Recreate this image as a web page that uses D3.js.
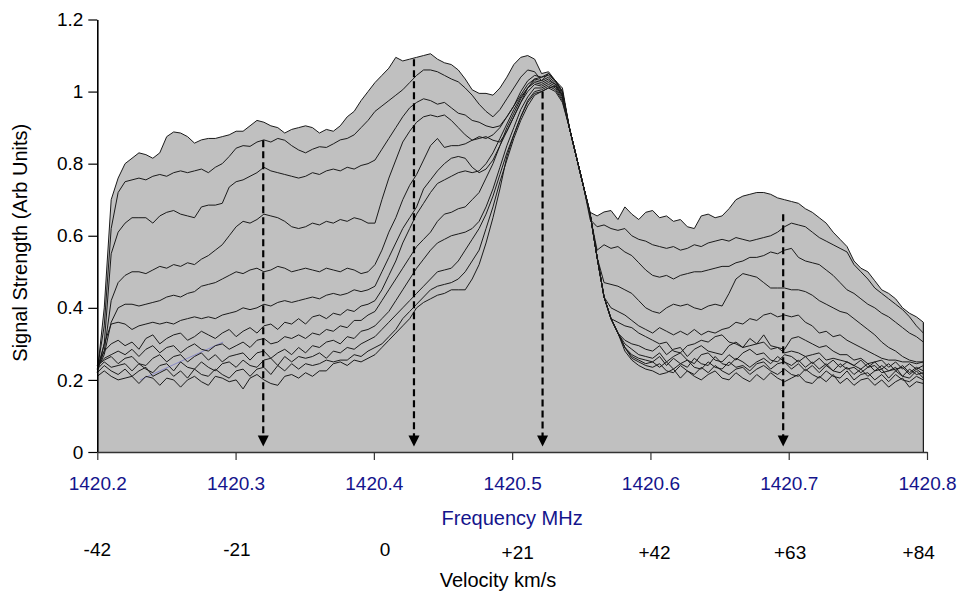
<!DOCTYPE html>
<html>
<head>
<meta charset="utf-8">
<script src="https://cdn.jsdelivr.net/npm/d3@7"></script>
<style>
  body { margin: 0; background: #fff; }
  text { font-family: "Liberation Sans", Arial, sans-serif; }
</style>
</head>
<body>
<div id="chart"></div>
<script>
// sample grid of the scans (MHz)
const freqStart = 1420.2;
const freqStep = 0.00502;

// signal strength of each scan, one value per sample
const scan1 = [.22,.40,.70,.76,.80,.815,.83,.825,.815,.83,
  .875,.888,.885,.875,.857,.866,.87,.87,.875,.88,
  .89,.89,.905,.92,.915,.905,.90,.885,.895,.90,
  .905,.90,.885,.895,.89,.905,.93,.945,.975,1.0,
  1.025,1.045,1.065,1.095,1.085,1.09,1.095,1.10,1.105,1.09,
  1.08,1.075,1.06,1.035,1.005,.995,.995,.99,1.01,1.04,
  1.075,1.095,1.10,1.09,1.05,1.055,1.03,1.01,.90,.82,
  .74,.665,.655,.666,.67,.645,.68,.66,.645,.665,
  .67,.65,.655,.64,.645,.625,.62,.655,.66,.65,
  .655,.675,.70,.71,.715,.72,.72,.715,.705,.70,
  .695,.69,.675,.665,.65,.635,.61,.59,.57,.53,
  .51,.50,.475,.45,.44,.425,.40,.385,.375,.36];
const scan2 = [.23,.35,.62,.72,.75,.755,.76,.755,.765,.77,
  .765,.775,.78,.775,.78,.785,.775,.79,.80,.82,
  .843,.85,.848,.86,.866,.86,.87,.865,.85,.838,
  .83,.84,.847,.845,.855,.866,.87,.88,.90,.92,
  .945,.96,.975,.99,1.005,1.025,1.045,1.06,1.06,1.055,
  1.045,1.035,1.027,1.01,.99,.965,.945,.93,.95,.98,
  1.01,1.04,1.06,1.055,1.03,1.05,1.03,1.0,.90,.82,
  .74,.645,.625,.63,.62,.615,.62,.60,.59,.585,
  .575,.57,.565,.57,.56,.565,.575,.57,.58,.585,
  .59,.585,.595,.59,.585,.59,.595,.60,.61,.625,
  .635,.63,.625,.61,.595,.585,.575,.565,.555,.52,
  .50,.48,.455,.44,.425,.41,.395,.375,.35,.33];
const scan3 = [.23,.30,.55,.61,.635,.65,.65,.65,.635,.655,
  .665,.67,.66,.655,.65,.68,.685,.685,.69,.735,
  .75,.755,.765,.775,.79,.78,.775,.77,.765,.76,
  .765,.775,.77,.78,.785,.78,.79,.785,.795,.80,
  .81,.84,.87,.90,.93,.955,.97,.98,.975,.965,
  .97,.955,.94,.935,.92,.915,.905,.90,.905,.93,
  .96,1.0,1.03,1.045,1.04,1.05,1.03,1.0,.90,.82,
  .74,.655,.56,.575,.565,.57,.555,.545,.525,.505,
  .49,.485,.49,.48,.49,.495,.50,.50,.505,.51,
  .515,.515,.525,.53,.54,.54,.545,.555,.55,.56,
  .565,.54,.53,.525,.52,.505,.49,.47,.45,.44,
  .425,.41,.40,.385,.375,.36,.345,.33,.32,.305];
const scan4 = [.23,.28,.42,.47,.49,.50,.50,.495,.505,.515,
  .51,.52,.515,.525,.52,.535,.545,.56,.575,.60,
  .625,.64,.635,.645,.66,.655,.65,.64,.625,.62,
  .625,.635,.63,.64,.635,.645,.64,.65,.645,.635,
  .635,.70,.76,.81,.86,.89,.915,.93,.935,.93,
  .935,.92,.90,.88,.865,.87,.875,.865,.86,.89,
  .93,.97,1.01,1.035,1.04,1.045,1.03,1.0,.90,.82,
  .74,.66,.54,.47,.465,.46,.45,.44,.42,.40,
  .39,.385,.40,.41,.405,.41,.40,.395,.405,.41,
  .405,.44,.48,.495,.49,.485,.47,.455,.455,.455,
  .45,.45,.445,.435,.42,.41,.40,.39,.385,.37,
  .355,.34,.325,.305,.29,.28,.265,.255,.25,.25];
const scan5 = [.23,.27,.36,.40,.41,.41,.405,.41,.415,.42,
  .43,.435,.43,.44,.445,.46,.465,.47,.48,.49,
  .50,.495,.505,.51,.50,.505,.515,.51,.50,.505,
  .51,.505,.50,.51,.505,.50,.51,.505,.495,.50,
  .52,.56,.61,.65,.70,.74,.77,.81,.85,.87,
  .845,.85,.85,.855,.865,.875,.87,.88,.90,.93,
  .96,.99,1.02,1.035,1.03,1.04,1.025,.995,.90,.82,
  .74,.66,.54,.43,.40,.39,.38,.365,.35,.34,
  .33,.345,.335,.325,.335,.325,.34,.325,.335,.33,
  .34,.345,.36,.355,.37,.365,.38,.385,.375,.38,
  .375,.38,.36,.35,.33,.335,.32,.325,.31,.30,
  .29,.28,.27,.26,.255,.255,.25,.25,.245,.25];
const scan6 = [.22,.30,.355,.36,.355,.34,.35,.355,.36,.355,
  .36,.355,.365,.37,.375,.37,.375,.37,.38,.385,
  .39,.40,.395,.40,.41,.405,.415,.42,.415,.42,
  .425,.43,.425,.435,.44,.435,.44,.45,.445,.45,
  .46,.50,.54,.58,.62,.65,.68,.73,.755,.78,
  .80,.815,.82,.815,.79,.775,.785,.81,.85,.90,
  .94,.98,1.01,1.03,1.025,1.035,1.02,.99,.90,.82,
  .74,.66,.54,.43,.37,.36,.35,.345,.33,.32,
  .31,.30,.305,.28,.275,.295,.30,.31,.305,.32,
  .325,.305,.30,.29,.295,.30,.325,.295,.29,.285,
  .315,.32,.31,.30,.29,.295,.28,.27,.27,.255,
  .26,.245,.25,.255,.235,.25,.23,.245,.23,.24];
const scan7 = [.24,.28,.30,.31,.295,.305,.285,.315,.325,.30,
  .315,.325,.33,.31,.32,.335,.325,.315,.33,.34,
  .32,.335,.345,.33,.35,.355,.34,.36,.355,.37,
  .355,.375,.38,.37,.385,.38,.395,.39,.405,.41,
  .42,.45,.49,.53,.58,.62,.66,.69,.72,.745,
  .755,.765,.775,.78,.775,.78,.80,.83,.87,.91,
  .95,.985,1.01,1.025,1.02,1.03,1.02,.99,.90,.82,
  .74,.66,.54,.43,.37,.33,.31,.30,.295,.285,
  .28,.295,.27,.285,.29,.265,.285,.295,.28,.275,
  .27,.295,.305,.29,.315,.30,.305,.285,.29,.275,
  .28,.275,.265,.27,.275,.255,.26,.255,.25,.24,
  .255,.235,.25,.23,.245,.225,.24,.22,.235,.225];
const scan8 = [.24,.26,.27,.28,.27,.285,.265,.285,.295,.275,
  .29,.295,.275,.29,.30,.285,.28,.295,.30,.285,
  .295,.305,.29,.31,.315,.30,.305,.32,.315,.325,
  .315,.33,.325,.34,.335,.35,.345,.365,.365,.38,
  .39,.42,.45,.48,.51,.54,.57,.59,.61,.64,
  .66,.665,.675,.68,.70,.72,.76,.80,.85,.89,
  .93,.97,1.0,1.02,1.015,1.025,1.015,.985,.90,.82,
  .74,.66,.54,.43,.37,.33,.30,.285,.27,.265,
  .26,.275,.25,.265,.275,.255,.245,.27,.275,.255,
  .25,.27,.255,.275,.285,.27,.275,.255,.25,.27,
  .265,.25,.265,.245,.26,.24,.255,.235,.25,.24,
  .23,.245,.225,.24,.225,.23,.235,.215,.23,.215];
const scan9 = [.24,.255,.265,.245,.26,.265,.245,.24,.26,.27,
  .25,.265,.27,.25,.265,.275,.255,.27,.25,.265,
  .27,.275,.255,.275,.28,.26,.275,.285,.27,.29,
  .275,.295,.29,.305,.31,.30,.32,.315,.335,.34,
  .35,.37,.39,.42,.45,.48,.51,.535,.56,.58,
  .59,.60,.605,.61,.62,.64,.68,.73,.79,.85,
  .90,.95,.985,1.01,1.01,1.02,1.01,.98,.90,.82,
  .74,.66,.54,.43,.37,.33,.29,.27,.26,.255,
  .25,.265,.24,.26,.245,.235,.26,.245,.24,.265,
  .245,.24,.26,.25,.235,.25,.26,.245,.265,.25,
  .24,.255,.235,.25,.23,.245,.225,.245,.23,.235,
  .22,.235,.24,.22,.225,.235,.21,.23,.215,.22];
const scan10 = [.23,.25,.235,.24,.245,.225,.245,.23,.22,.24,
  .245,.225,.25,.235,.23,.25,.235,.225,.245,.25,
  .235,.255,.24,.235,.255,.26,.24,.265,.25,.265,
  .26,.265,.275,.26,.28,.275,.29,.285,.30,.31,
  .32,.34,.36,.38,.40,.42,.44,.46,.48,.50,
  .505,.51,.53,.56,.59,.62,.66,.71,.77,.83,
  .88,.93,.975,1.0,1.005,1.015,1.005,.975,.90,.82,
  .74,.66,.54,.43,.37,.33,.29,.265,.255,.245,
  .25,.235,.25,.23,.245,.255,.235,.23,.25,.235,
  .23,.25,.235,.24,.225,.245,.25,.23,.245,.25,
  .23,.245,.225,.24,.22,.24,.225,.22,.235,.215,
  .23,.21,.225,.23,.205,.225,.21,.205,.225,.205];
const scan11 = [.22,.24,.225,.215,.23,.21,.225,.235,.21,.22,
  .23,.21,.225,.205,.23,.215,.21,.23,.215,.205,
  .225,.23,.21,.23,.235,.215,.24,.225,.245,.23,
  .245,.24,.245,.255,.25,.255,.255,.27,.265,.28,
  .29,.30,.32,.34,.37,.39,.41,.43,.45,.46,
  .465,.47,.48,.50,.53,.56,.62,.68,.75,.81,
  .87,.92,.96,.99,1.0,1.01,1.0,.97,.90,.82,
  .74,.66,.54,.43,.37,.33,.29,.26,.25,.24,
  .235,.245,.225,.22,.24,.225,.215,.235,.22,.24,
  .225,.215,.23,.235,.215,.23,.24,.225,.215,.23,
  .215,.21,.23,.215,.205,.225,.21,.205,.225,.20,
  .215,.22,.20,.215,.195,.215,.20,.195,.21,.20];
const scan12 = [.21,.225,.21,.20,.205,.21,.19,.21,.205,.185,
  .205,.20,.18,.20,.21,.195,.185,.21,.205,.195,
  .20,.175,.205,.215,.20,.19,.185,.21,.215,.205,
  .22,.21,.225,.225,.245,.25,.24,.255,.25,.26,
  .27,.29,.31,.33,.35,.37,.40,.415,.425,.435,
  .44,.45,.45,.45,.48,.52,.58,.65,.73,.82,
  .88,.93,.97,.995,1.0,1.01,1.015,.99,.90,.82,
  .74,.66,.54,.43,.37,.33,.28,.255,.24,.23,
  .225,.215,.22,.23,.205,.225,.21,.20,.215,.225,
  .205,.20,.22,.205,.195,.215,.20,.22,.205,.195,
  .205,.215,.195,.19,.21,.195,.215,.19,.205,.185,
  .20,.205,.185,.20,.18,.195,.205,.18,.195,.19];

const scans = [scan1, scan2, scan3, scan4, scan5, scan6, scan7, scan8, scan9, scan10, scan11, scan12];

const freqTicks = [1420.2, 1420.3, 1420.4, 1420.5, 1420.6, 1420.7, 1420.8];
const freqTickLabels = ["1420.2", "1420.3", "1420.4", "1420.5", "1420.6", "1420.7", "1420.8"];
const yTicks = [0, 0.2, 0.4, 0.6, 0.8, 1, 1.2];
const yTickLabels = ["0", "0.2", "0.4", "0.6", "0.8", "1", "1.2"];
const velocityLabels = ["-42", "-21", "0", "+21", "+42", "+63", "+84"];
const velocityAt = [1420.2, 1420.301, 1420.408, 1420.504, 1420.603, 1420.701, 1420.794];

// dashed arrows marking the peaks
const arrowFreqs = [1420.32, 1420.429, 1420.522, 1420.696];
const arrowTops = [0.865, 1.09, 1.0, 0.66];
const arrowTip = 0.015;

// faint stray stroke in the lower left of the original
const strayLine = [[1420.231, 0.2], [1420.291, 0.305]];

const width = 964;
const height = 592;

const x = d3.scaleLinear().domain([1420.2, 1420.8]).range([97.3, 927]);
const y = d3.scaleLinear().domain([0, 1.2]).range([452, 19.5]);

const svg = d3
  .select("#chart")
  .append("svg")
  .attr("width", width)
  .attr("height", height)
  .style("background", "#fff");

const toPoints = (s) => s.map((v, k) => ({ f: freqStart + k * freqStep, v: v }));

const area = d3
  .area()
  .x((d) => x(d.f))
  .y0(y(0))
  .y1((d) => y(d.v));

const line = d3
  .line()
  .x((d) => x(d.f))
  .y((d) => y(d.v));

// grey fill first, then every outline on top
svg
  .append("g")
  .selectAll("path")
  .data(scans)
  .enter()
  .append("path")
  .attr("d", (s) => area(toPoints(s)))
  .attr("fill", "#c0c0c0");

svg
  .append("path")
  .attr("d", d3.line()(strayLine.map((p) => [x(p[0]), y(p[1])])))
  .attr("stroke", "#8a8ac8")
  .attr("stroke-width", 1)
  .attr("fill", "none");

svg
  .append("g")
  .selectAll("path")
  .data(scans)
  .enter()
  .append("path")
  .attr("d", (s) => line(toPoints(s)))
  .attr("fill", "none")
  .attr("stroke", "#1a1a1a")
  .attr("stroke-width", 1)
  .attr("stroke-linejoin", "round");

// right edge of the filled region
const lastF = freqStart + (scan1.length - 1) * freqStep;
svg
  .append("line")
  .attr("x1", x(lastF))
  .attr("x2", x(lastF))
  .attr("y1", y(0))
  .attr("y2", y(scan1[scan1.length - 1]))
  .attr("stroke", "#1a1a1a")
  .attr("stroke-width", 1.2);

// arrows
const arrows = svg.append("g");
arrowFreqs.forEach((f, i) => {
  const ax = x(f);
  const tipY = y(arrowTip);
  arrows
    .append("line")
    .attr("x1", ax)
    .attr("x2", ax)
    .attr("y1", y(arrowTops[i]))
    .attr("y2", tipY - 9)
    .attr("stroke", "#000")
    .attr("stroke-width", 2.2)
    .attr("stroke-dasharray", "7,4");
  arrows
    .append("path")
    .attr("d", `M${ax - 5.5},${tipY - 11}L${ax + 5.5},${tipY - 11}L${ax},${tipY}Z`)
    .attr("fill", "#000");
});

// axes
const yAxis = svg
  .append("g")
  .attr("transform", `translate(${x(1420.2)},0)`)
  .call(
    d3
      .axisLeft(y)
      .tickValues(yTicks)
      .tickFormat((d, i) => yTickLabels[i])
      .tickSize(9)
      .tickSizeOuter(0)
      .tickPadding(5)
  );
yAxis.select(".domain").attr("stroke", "#000").attr("stroke-width", 1.6);
yAxis.selectAll(".tick line").attr("stroke", "#000").attr("stroke-width", 1.2);
yAxis.selectAll("text").style("font-size", "19px").style("fill", "#000")
  .style("font-family", '"Liberation Sans", Arial, sans-serif');

const xAxis = svg
  .append("g")
  .attr("transform", `translate(0,${y(0)})`)
  .call(
    d3
      .axisBottom(x)
      .tickValues(freqTicks)
      .tickFormat((d, i) => freqTickLabels[i])
      .tickSize(8)
      .tickSizeOuter(0)
      .tickPadding(17)
  );
xAxis.select(".domain").attr("stroke", "#333").attr("stroke-width", 1.6);
xAxis.selectAll(".tick line").attr("stroke", "#333").attr("stroke-width", 1.2);
xAxis.selectAll("text").style("font-size", "19px").style("fill", "#14148c")
  .style("font-family", '"Liberation Sans", Arial, sans-serif');

// titles
svg
  .append("text")
  .attr("x", x(1420.5))
  .attr("y", 525)
  .attr("text-anchor", "middle")
  .style("font-size", "20px")
  .style("fill", "#14148c")
  .text("Frequency MHz");

svg
  .selectAll(".vel")
  .data(velocityLabels)
  .enter()
  .append("text")
  .attr("class", "vel")
  .attr("x", (d, i) => x(velocityAt[i]))
  .attr("y", (d, i) => (d.startsWith("+") ? 559 : 556))
  .attr("text-anchor", "middle")
  .style("font-size", "19px")
  .style("fill", "#000")
  .text((d) => d);

svg
  .append("text")
  .attr("x", 498)
  .attr("y", 587)
  .attr("text-anchor", "middle")
  .style("font-size", "20px")
  .style("fill", "#000")
  .text("Velocity km/s");

svg
  .append("text")
  .attr("transform", `translate(27,${(y(0) + y(1.2)) / 2 + 7}) rotate(-90)`)
  .attr("text-anchor", "middle")
  .style("font-size", "20px")
  .style("fill", "#000")
  .text("Signal Strength (Arb Units)");
</script>
</body>
</html>
